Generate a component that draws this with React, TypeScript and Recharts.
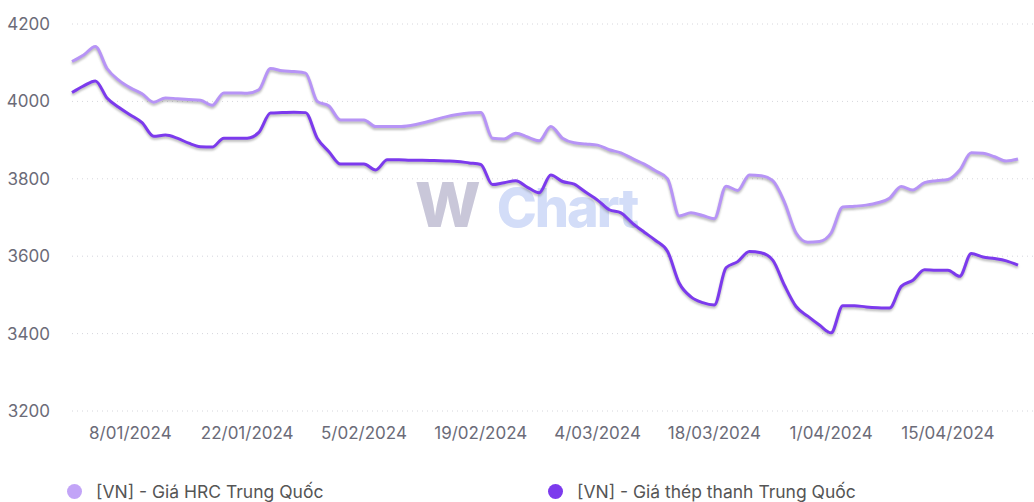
import React from 'react';
import { LineChart, Line, XAxis, YAxis, CartesianGrid } from 'recharts';

const dates = [
  '1/01/2024', '2/01/2024', '3/01/2024', '4/01/2024', '5/01/2024',
  '8/01/2024', '9/01/2024', '10/01/2024', '11/01/2024', '12/01/2024',
  '15/01/2024', '16/01/2024', '17/01/2024', '18/01/2024', '19/01/2024',
  '22/01/2024', '23/01/2024', '24/01/2024', '25/01/2024', '26/01/2024',
  '29/01/2024', '30/01/2024', '31/01/2024', '1/02/2024', '2/02/2024',
  '5/02/2024', '6/02/2024', '7/02/2024', '8/02/2024', '9/02/2024',
  '12/02/2024', '13/02/2024', '14/02/2024', '15/02/2024', '16/02/2024',
  '19/02/2024', '20/02/2024', '21/02/2024', '22/02/2024', '23/02/2024',
  '26/02/2024', '27/02/2024', '28/02/2024', '29/02/2024', '1/03/2024',
  '4/03/2024', '5/03/2024', '6/03/2024', '7/03/2024', '8/03/2024',
  '11/03/2024', '12/03/2024', '13/03/2024', '14/03/2024', '15/03/2024',
  '18/03/2024', '19/03/2024', '20/03/2024', '21/03/2024', '22/03/2024',
  '25/03/2024', '26/03/2024', '27/03/2024', '28/03/2024', '29/03/2024',
  '1/04/2024', '2/04/2024', '3/04/2024', '4/04/2024', '5/04/2024',
  '8/04/2024', '9/04/2024', '10/04/2024', '11/04/2024', '12/04/2024',
  '15/04/2024', '16/04/2024', '17/04/2024', '18/04/2024', '19/04/2024',
  '22/04/2024', '23/04/2024',
];

const hrc = [
  4103, 4120, 4142, 4085, 4055, 4035, 4020, 3998, 4009, 4007,
  4005, 4003, 3990, 4022, 4022, 4021, 4030, 4085, 4079, 4077,
  4073, 4000, 3988, 3952, 3952, 3952, 3935, 3935, 3935, 3938,
  3944, 3952, 3960, 3966, 3970, 3971, 3905, 3903, 3918, 3908,
  3898, 3935, 3905, 3893, 3890, 3887, 3875, 3867, 3852, 3838,
  3820, 3800, 3704, 3712, 3705, 3697, 3781, 3770, 3810, 3808,
  3795, 3740, 3660, 3636, 3638, 3660, 3727, 3729, 3732, 3738,
  3750, 3780, 3771, 3790, 3795, 3798, 3822, 3867, 3866, 3857,
  3846, 3851,
];

const thepThanh = [
  4023, 4040, 4053, 4009, 3985, 3965, 3945, 3910, 3913, 3905,
  3892, 3883, 3882, 3905, 3905, 3905, 3920, 3970, 3971, 3972,
  3971, 3905, 3870, 3838, 3838, 3838, 3823, 3849, 3849, 3848,
  3848, 3847, 3846, 3845, 3841, 3837, 3785, 3790, 3795, 3778,
  3764, 3810, 3793, 3786, 3765, 3745, 3720, 3712, 3685, 3662,
  3640, 3612, 3530, 3495, 3480, 3474, 3570, 3586, 3612, 3609,
  3590, 3525, 3470, 3445, 3422, 3402, 3472, 3472, 3469, 3467,
  3466, 3522, 3538, 3565, 3564, 3564, 3548, 3607, 3598, 3594,
  3588, 3577,
];

const xTicks = [
  '8/01/2024', '22/01/2024', '5/02/2024', '19/02/2024',
  '4/03/2024', '18/03/2024', '1/04/2024', '15/04/2024',
];
const yTicks = [3200, 3400, 3600, 3800, 4000, 4200];

const seriesNames = ['[VN] - Giá HRC Trung Quốc', '[VN] - Giá thép thanh Trung Quốc'];
const seriesColors = ['#b794f6', '#7c3aed'];

const data = dates.map((d, i) => ({ date: d, hrc: hrc[i], thep: thepThanh[i] }));

const font = 'Inter, "Noto Sans", sans-serif';

export default function App() {
  return (
    <div style={{ position: 'absolute', left: 0, top: 0, width: 1034, height: 502, background: '#fff', fontFamily: font, overflow: 'hidden' }}>
      <style>{`.recharts-line-curve { filter: drop-shadow(0px 2px 1.2px rgba(60,60,60,0.35)); }`}</style>
      {/* watermark */}
      <div style={{ position: 'absolute', left: 415, top: 174, fontWeight: 800, pointerEvents: 'none', whiteSpace: 'nowrap', lineHeight: 1 }}>
        <span style={{ color: '#c9c7d9', fontSize: 62, marginRight: 16 }}>W</span>
        <span style={{ color: '#d3ddf8', fontSize: 54, letterSpacing: -2 }}>Chart</span>
      </div>
      <LineChart width={1034} height={460} data={data} margin={{ top: 24, right: 0, left: 0, bottom: 19 }}>
        <CartesianGrid vertical={false} stroke="#d6d6dc" strokeDasharray="1 4" />
        <XAxis
          dataKey="date"
          ticks={xTicks}
          interval={0}
          axisLine={false}
          tickLine={false}
          tickSize={0}
          tickMargin={16}
          height={30}
          padding={{ left: 0, right: 16 }}
          tick={{ fill: '#6b6b78', fontSize: 17, fontFamily: font }}
        />
        <YAxis
          domain={[3200, 4200]}
          ticks={yTicks}
          axisLine={false}
          tickLine={false}
          tickSize={0}
          tickMargin={22}
          width={72}
          tick={{ fill: '#6b6b78', fontSize: 17, fontFamily: font }}
        />
        <Line type="monotone" dataKey="hrc" stroke={seriesColors[0]} strokeWidth={3} dot={false} isAnimationActive={false} />
        <Line type="monotone" dataKey="thep" stroke={seriesColors[1]} strokeWidth={3} dot={false} isAnimationActive={false} />
      </LineChart>
      {seriesNames.map((name, i) => (
        <div key={name} style={{ position: 'absolute', top: 481, left: i === 0 ? 67 : 548, display: 'flex', alignItems: 'center', fontSize: 17.5, color: '#555' }}>
          <span style={{ width: 15, height: 15, borderRadius: '50%', background: seriesColors[i], opacity: i === 0 ? 0.85 : 1, marginRight: 14, display: 'inline-block' }} />
          <span>{name}</span>
        </div>
      ))}
    </div>
  );
}
